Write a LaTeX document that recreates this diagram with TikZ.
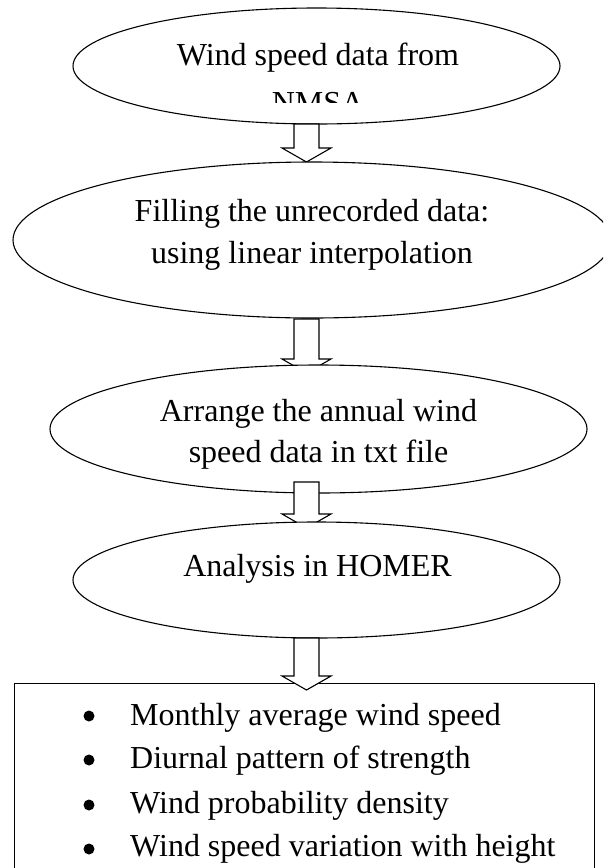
\documentclass[tikz,border=0pt]{standalone}
\usepackage{fontspec}
\setmainfont{Liberation Serif}
\usetikzlibrary{calc,shapes.geometric}
\newcommand\blockarr[2]{%
  \draw[blockarrow] let \p1=(#1), \p2=(#2) in
    (\x1-12.5pt,\y1) -- (\x1-12.5pt,\y2+14pt) -- (\x1-24.5pt,\y2+14pt) --
    (\x2,\y2) -- (\x1+24.5pt,\y2+14pt) -- (\x1+12.5pt,\y2+14pt) --
    (\x1+12.5pt,\y1) -- cycle;}
\begin{document}
\begin{tikzpicture}[x=1pt,y=-1pt,
  ell/.style={draw, ellipse, line width=1.1pt, fill=white, inner sep=0pt},
  blockarrow/.style={draw, line width=1.1pt, fill=white, line join=miter},
  txt/.style={font=\fontsize{32}{41}\selectfont, anchor=base, inner sep=0pt},
  itm/.style={font=\fontsize{32}{41}\selectfont, anchor=base west, inner sep=0pt},
  bul/.style={circle, fill=black, inner sep=0pt, minimum size=11pt}]
\useasboundingbox (0,0) rectangle (603,868);
\clip (0,0) rectangle (603,868);
\fill[white] (0,0) rectangle (603,868);

% ellipse 1
\node[ell, minimum width=487pt, minimum height=116pt] (e1) at (316.5,66) {};
\node[txt] (t1a) at (318,65) {Wind speed data from};
\begin{scope}
  \clip (0,0) rectangle (603,102);
  \node[txt] (t1b) at (318,113) {NMSA};
\end{scope}

% arrow 1
\coordinate (a1s) at (306.5,124);
\coordinate (a1e) at (306.5,162);
\blockarr{a1s}{a1e}

% ellipse 2
\node[ell, minimum width=598pt, minimum height=156pt] (e2) at (312,240) {};
\node[txt] (t2a) at (312,221.7) {Filling the unrecorded data:};
\node[txt] (t2b) at (312,263) {using linear interpolation};

% arrow 2
\coordinate (a2s) at (306.5,319);
\coordinate (a2e) at (306.5,373);
\blockarr{a2s}{a2e}

% ellipse 3
\node[ell, minimum width=537pt, minimum height=128pt] (e3) at (318.5,429) {};
\node[txt] (t3a) at (318.5,421.7) {Arrange the annual wind};
\node[txt] (t3b) at (318.5,462.7) {speed data in txt file};

% arrow 3
\coordinate (a3s) at (306.5,482);
\coordinate (a3e) at (306.5,528);
\blockarr{a3s}{a3e}

% ellipse 4
\node[ell, minimum width=487pt, minimum height=116pt] (e4) at (316.5,580) {};
\node[txt] (t4) at (317.5,576) {Analysis in HOMER};

% result box
\node[draw, line width=1.1pt, fill=white, anchor=north west, inner sep=0pt,
      minimum width=580pt, minimum height=220pt] (box) at (14,683) {};

% arrow 4
\coordinate (a4s) at (306.5,638);
\coordinate (a4e) at (306.5,690);
\blockarr{a4s}{a4e}

% list
\node[bul] (b1) at (89,716) {};
\node[bul] (b2) at (89,760) {};
\node[bul] (b3) at (89,805) {};
\node[bul] (b4) at (89,849) {};
\node[itm] (i1) at (130,725) {Monthly average wind speed};
\node[itm] (i2) at (130,768.5) {Diurnal pattern of strength};
\node[itm] (i3) at (130,813) {Wind probability density};
\node[itm] (i4) at (130,856) {Wind speed variation with height};
\end{tikzpicture}
\end{document}
